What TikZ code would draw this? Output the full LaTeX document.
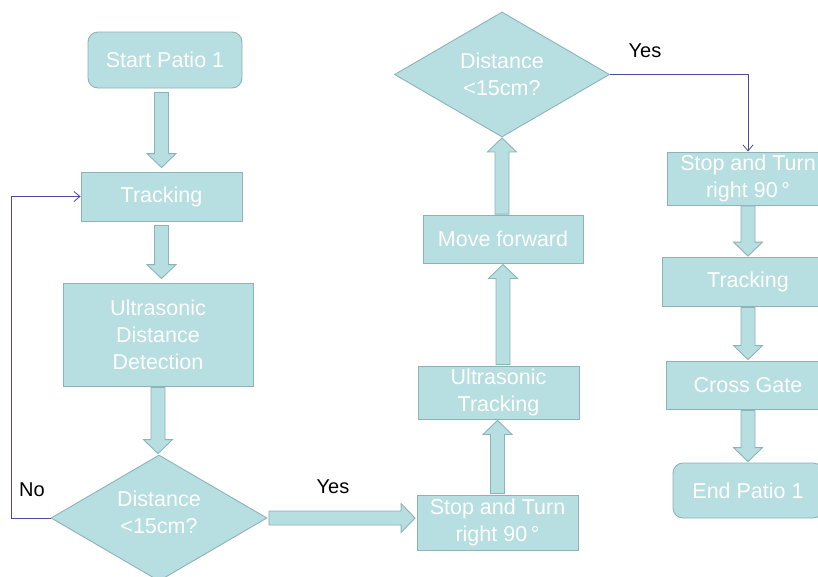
\documentclass[tikz,border=0pt]{standalone}
\usepackage{fontspec}
\setmainfont{Liberation Sans}
\usetikzlibrary{shapes.geometric,calc,arrows.meta}

\definecolor{boxfill}{RGB}{183,222,224}
\definecolor{boxline}{RGB}{140,180,184}
\definecolor{flowline}{RGB}{75,75,160}

\tikzset{
  base/.style={fill=boxfill, draw=boxline, line width=0.9pt, text=white,
    font=\fontsize{21.5}{27}\selectfont, align=center, inner sep=0pt},
  stepbox/.style={base, rectangle},
  terminal/.style={base, rectangle, rounded corners=10pt},
  decision/.style={base, diamond, aspect=1.7},
  blockarrow/.style={fill=boxfill, draw=boxline, line width=0.9pt, line join=miter},
  flow/.style={draw=flowline, line width=0.8pt, -{Straight Barb[length=6pt,width=10pt]}},
  tag/.style={font=\fontsize{20}{24}\selectfont, text=black, inner sep=0pt},
}

% Wide block arrow from #1 to #2 (tip), leaving a gap of #3 at each end
\newcommand{\blockarrow}[3]{%
  \coordinate (ba-a) at (#1);
  \coordinate (ba-b) at (#2);
  \coordinate (ba-s) at ($(ba-a)!#3!(ba-b)$);
  \coordinate (ba-t) at ($(ba-b)!#3!(ba-a)$);
  \coordinate (ba-h) at ($(ba-t)!14pt!(ba-s)$);
  \draw[blockarrow]
    ($(ba-s)!7pt!90:(ba-t)$) -- ($(ba-h)!7pt!90:(ba-t)$) --
    ($(ba-h)!14.5pt!90:(ba-t)$) -- (ba-t) --
    ($(ba-h)!14.5pt!-90:(ba-t)$) -- ($(ba-h)!7pt!-90:(ba-t)$) --
    ($(ba-s)!7pt!-90:(ba-t)$) -- cycle;
}

\begin{document}
\begin{tikzpicture}[x=1pt,y=-1pt]
\useasboundingbox (0,0) rectangle (818,576);
\clip (0,0) rectangle (818,576);
\fill[white] (0,0) rectangle (818,576);

% left column
\node[terminal, minimum width=154pt, minimum height=56pt] (start) at (165,60) {Start Patio 1};
\node[stepbox, minimum width=161pt, minimum height=49pt] (track1) at (161.5,196.5) {Tracking};
\node[stepbox, minimum width=190pt, minimum height=103pt] (udd) at (158,334.5) {Ultrasonic\\Distance\\Detection};
\node[decision, minimum width=216pt, minimum height=126pt] (dec1) at (159,518)
  {\raisebox{3pt}[\height][\depth]{\begin{tabular}{@{}c@{}}Distance\\<15cm?\end{tabular}}};

% middle column
\node[stepbox, minimum width=161pt, minimum height=55pt] (stop1) at (497.5,522.5) {Stop and Turn\\right 90\,°};
\node[stepbox, minimum width=161pt, minimum height=53pt] (ut) at (498.5,392.5) {Ultrasonic\\Tracking};
\node[stepbox, minimum width=160pt, minimum height=48pt] (mf) at (503,239) {Move forward};
\node[decision, minimum width=215pt, minimum height=125pt] (dec2) at (502,74.5) {Distance\\<15cm?};

% right column
\node[stepbox, minimum width=162pt, minimum height=53pt] (stop2) at (748,178.5) {Stop and Turn\\right 90\,°};
\node[stepbox, minimum width=172pt, minimum height=49pt] (track2) at (748,281.5) {Tracking};
\node[stepbox, minimum width=164pt, minimum height=48pt] (cross) at (748,385) {Cross Gate};
\node[terminal, minimum width=150pt, minimum height=55pt] (end) at (748,490.5) {End Patio 1};

% block arrows
\blockarrow{track1.north |- start.south}{track1.north}{4pt}
\blockarrow{track1.south}{track1.south |- udd.north}{4pt}
\blockarrow{udd.south}{udd.south |- dec1.north}{1pt}
\blockarrow{dec1.east}{dec1.east -| stop1.west}{1.5pt}
\blockarrow{stop1.north}{stop1.north |- ut.south}{1pt}
\blockarrow{mf.south |- ut.north}{mf.south}{1pt}
\blockarrow{dec2.south |- mf.north}{dec2.south}{0.5pt}
\blockarrow{stop2.south}{stop2.south |- track2.north}{0.5pt}
\blockarrow{track2.south}{track2.south |- cross.north}{1pt}
\blockarrow{cross.south}{cross.south |- end.north}{1pt}

% decision branches
\draw[flow] (dec1.west) -- ++(-39,0) |- (track1.west);
\draw[flow] (dec2.east) -| (stop2.north);

\node[tag] (no) at (32,490) {No};
\node[tag] (yes1) at (333,487) {Yes};
\node[tag] (yes2) at (645,51) {Yes};
\end{tikzpicture}
\end{document}
